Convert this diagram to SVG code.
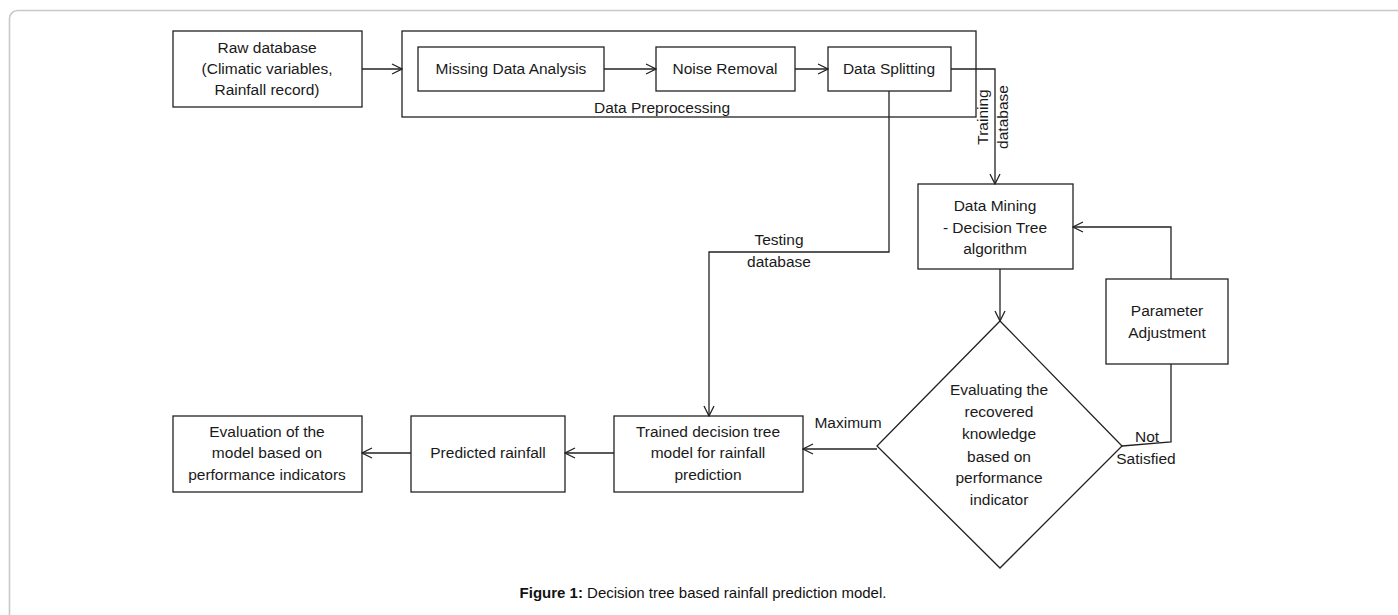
<svg xmlns="http://www.w3.org/2000/svg" width="1398" height="615" viewBox="0 0 1398 615">
  <style>
    .box { fill: #ffffff; stroke: #222222; stroke-width: 1.3; }
    .frame { fill: none; stroke: #c8c8c8; stroke-width: 1.6; }
    .lbl { font-family: "Liberation Sans", Arial, sans-serif; font-size: 15.5px; fill: #1a1a1a; text-anchor: middle; }
    .wire { fill: none; stroke: #222222; stroke-width: 1.3; }
    .cap { font-family: "Liberation Sans", Arial, sans-serif; font-size: 15px; fill: #111111; text-anchor: middle; }
  </style>
  <defs>
    <marker id="arrow" viewBox="0 0 12 12" refX="11" refY="6" markerWidth="12" markerHeight="12" markerUnits="userSpaceOnUse" orient="auto">
      <path d="M1,1 L11,6 L1,11" fill="none" stroke="#222222" stroke-width="1.3"/>
    </marker>
  </defs>

  <rect width="1398" height="615" fill="#ffffff"/>
  <!-- page frame -->
  <rect class="frame" x="9.5" y="10.5" width="1420" height="640" rx="8" ry="8"/>

  <!-- preprocessing container -->
  <g id="data-preprocessing">
    <rect class="box" x="402" y="31" width="574" height="86"/>
    <text class="lbl" x="662" y="113">Data Preprocessing</text>
  </g>

  <g id="raw-database">
    <rect class="box" x="173" y="31" width="189" height="76"/>
    <text class="lbl" x="267" y="53">Raw database</text>
    <text class="lbl" x="267" y="74">(Climatic variables,</text>
    <text class="lbl" x="267" y="95">Rainfall record)</text>
  </g>

  <g id="missing-data-analysis">
    <rect class="box" x="418" y="47" width="186" height="44"/>
    <text class="lbl" x="511" y="74">Missing Data Analysis</text>
  </g>

  <g id="noise-removal">
    <rect class="box" x="656" y="47" width="139" height="44"/>
    <text class="lbl" x="725" y="74">Noise Removal</text>
  </g>

  <g id="data-splitting">
    <rect class="box" x="828" y="47" width="123" height="44"/>
    <text class="lbl" x="889" y="74">Data Splitting</text>
  </g>

  <g id="data-mining">
    <rect class="box" x="918" y="184" width="155" height="85"/>
    <text class="lbl" x="995" y="211">Data Mining</text>
    <text class="lbl" x="995" y="233">- Decision Tree</text>
    <text class="lbl" x="995" y="254">algorithm</text>
  </g>

  <g id="parameter-adjustment">
    <rect class="box" x="1106" y="279" width="122" height="85"/>
    <text class="lbl" x="1167" y="316">Parameter</text>
    <text class="lbl" x="1167" y="338">Adjustment</text>
  </g>

  <g id="evaluate-knowledge">
    <polygon class="box" points="1000,321 1122,446 1000,568 877,446"/>
    <text class="lbl" x="999" y="395">Evaluating the</text>
    <text class="lbl" x="999" y="417">recovered</text>
    <text class="lbl" x="999" y="439">knowledge</text>
    <text class="lbl" x="999" y="462">based on</text>
    <text class="lbl" x="999" y="483">performance</text>
    <text class="lbl" x="999" y="505">indicator</text>
  </g>

  <g id="trained-model">
    <rect class="box" x="614" y="416" width="189" height="76"/>
    <text class="lbl" x="708" y="437">Trained decision tree</text>
    <text class="lbl" x="708" y="458">model for rainfall</text>
    <text class="lbl" x="708" y="480">prediction</text>
  </g>

  <g id="predicted-rainfall">
    <rect class="box" x="411" y="416" width="154" height="76"/>
    <text class="lbl" x="488" y="458">Predicted rainfall</text>
  </g>

  <g id="model-evaluation">
    <rect class="box" x="173" y="416" width="189" height="76"/>
    <text class="lbl" x="267" y="437">Evaluation of the</text>
    <text class="lbl" x="267" y="458">model based on</text>
    <text class="lbl" x="267" y="480">performance indicators</text>
  </g>

  <!-- connectors -->
  <g id="connectors">
    <line class="wire" x1="362" y1="69" x2="402" y2="69" marker-end="url(#arrow)"/>
    <line class="wire" x1="604" y1="69" x2="656" y2="69" marker-end="url(#arrow)"/>
    <line class="wire" x1="795" y1="69" x2="828" y2="69" marker-end="url(#arrow)"/>
    <polyline class="wire" points="951,69 995,69 995,184" marker-end="url(#arrow)"/>
    <polyline class="wire" points="889,91 889,252 709,252 709,416" marker-end="url(#arrow)"/>
    <line class="wire" x1="1000" y1="269" x2="1000" y2="321" marker-end="url(#arrow)"/>
    <line class="wire" x1="877" y1="449" x2="803" y2="449" marker-end="url(#arrow)"/>
    <line class="wire" x1="614" y1="453" x2="565" y2="453" marker-end="url(#arrow)"/>
    <line class="wire" x1="411" y1="453" x2="362" y2="453" marker-end="url(#arrow)"/>
    <polyline class="wire" points="1122,446 1171,442 1171,364"/>
    <polyline class="wire" points="1171,279 1171,227 1073,227" marker-end="url(#arrow)"/>
  </g>

  <!-- connector labels -->
  <g id="connector-labels">
    <text class="lbl" transform="translate(993,117) rotate(-90)"><tspan x="0" y="-5">Training</tspan><tspan x="0" y="15">database</tspan></text>
    <text class="lbl" x="779" y="245">Testing</text>
    <text class="lbl" x="779" y="267">database</text>
    <text class="lbl" x="848" y="428">Maximum</text>
    <text class="lbl" x="1147" y="442">Not</text>
    <text class="lbl" x="1146" y="464">Satisfied</text>
  </g>

  <text class="cap" x="703" y="598"><tspan font-weight="bold">Figure 1:</tspan> Decision tree based rainfall prediction model.</text>
</svg>
